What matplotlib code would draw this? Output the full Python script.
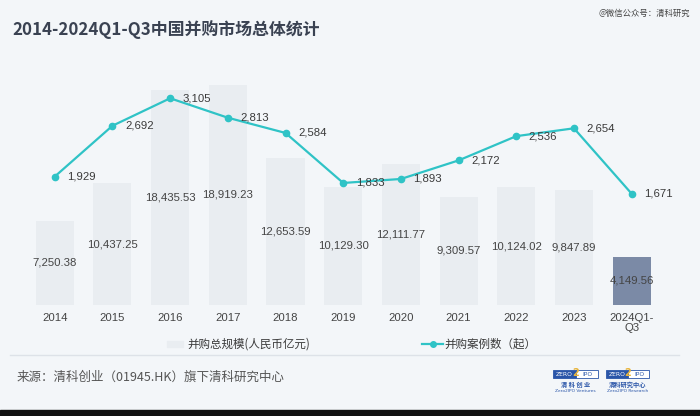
import matplotlib
matplotlib.use("Agg")
import matplotlib.pyplot as plt
from matplotlib.patches import Rectangle
from matplotlib.lines import Line2D

plt.rcParams['font.family'] = ['Noto Sans CJK SC', 'DejaVu Sans']

categories = ["2014", "2015", "2016", "2017", "2018", "2019", "2020", "2021", "2022", "2023", "2024Q1-\nQ3"]
scale_values = [7250.38, 10437.25, 18435.53, 18919.23, 12653.59, 10129.30, 12111.77, 9309.57, 10124.02, 9847.89, 4149.56]
case_counts = [1929, 2692, 3105, 2813, 2584, 1833, 1893, 2172, 2536, 2654, 1671]

title = "2014-2024Q1-Q3中国并购市场总体统计"
bar_legend = "并购总规模(人民币亿元)"
line_legend = "并购案例数（起）"
source = "来源：清科创业（01945.HK）旗下清科研究中心"
watermark = "@微信公众号：清科研究"

BG = "#f3f6f9"
BAR = "#e9edf1"
BAR_LAST = "#7b8aa6"
LINE = "#2fc3c6"
TXT = "#3a3a3a"
LOGO = "#2a55a8"

fig = plt.figure(figsize=(7, 4.16), dpi=100, facecolor=BG)
ax = fig.add_axes([0.037, 0.2668, 0.9066, 0.5602])
ax.set_facecolor("none")
ax2 = ax.twinx()

x = list(range(len(categories)))
colors = [BAR] * (len(categories) - 1) + [BAR_LAST]
ax.bar(x, scale_values, width=0.66, color=colors, zorder=1)
ax.set_ylim(0, 20000)
ax.set_xlim(-0.5, len(categories) - 0.5)
for xi, v in zip(x, scale_values):
    ax.text(xi, v / 2, f"{v:,.2f}", ha="center", va="center", fontsize=8.2,
            family="Liberation Sans", color="#444444")

ax2.plot(x, case_counts, color=LINE, lw=1.6, marker="o", markersize=4.5, zorder=3)
ax2.set_ylim(0, 3500)
for xi, v in zip(x, case_counts):
    ax2.annotate(f"{v:,}", (xi, v), xytext=(9, 0), textcoords="offset points",
                 ha="left", va="center", fontsize=8.2, family="Liberation Sans", color=TXT)

for a in (ax, ax2):
    for s in a.spines.values():
        s.set_visible(False)
    a.set_yticks([])
ax.set_xticks(x)
ax.set_xticklabels(categories, fontsize=8.2, family="Liberation Sans", color="#444444", linespacing=0.95)
ax.tick_params(axis="x", length=0, pad=6)

# title and watermark
fig.text(12 / 700, 1 - 30 / 416, title, fontsize=12.2, fontweight="bold", color="#3a4252",
         ha="left", va="center")
fig.text(690 / 700, 1 - 13 / 416, watermark, fontsize=6, color="#444444", ha="right", va="center")

# legend
ly = 1 - 344 / 416
fig.patches.append(Rectangle((167 / 700, ly - 3 / 416), 16 / 700, 6 / 416, transform=fig.transFigure,
                             color=BAR, zorder=2))
fig.text(187 / 700, ly, bar_legend, fontsize=8.3, color=TXT, ha="left", va="center")
fig.lines.append(Line2D([422 / 700, 443 / 700], [ly, ly], transform=fig.transFigure, color=LINE, lw=1.6))
fig.lines.append(Line2D([432.5 / 700], [ly], transform=fig.transFigure, color=LINE, marker="o", markersize=4))
fig.text(444 / 700, ly, line_legend, fontsize=8.3, color=TXT, ha="left", va="center")

# separator
fig.lines.append(Line2D([10 / 700, 679 / 700], [1 - 355 / 416] * 2, transform=fig.transFigure,
                        color="#dde2e8", lw=1))

# source
fig.text(17 / 700, 1 - 377 / 416, source, fontsize=9, color="#555555", ha="left", va="center")

# logos (simplified)
for lx, w, name, sub in [(553, 45, "清 科 创 业", "Zero2IPO Ventures"), (606, 43, "清科研究中心", "Zero2IPO Research")]:
    y0 = 1 - 378 / 416
    h = 8 / 416
    fig.patches.append(Rectangle((lx / 700, y0), (w * 0.5) / 700, h, transform=fig.transFigure,
                                 facecolor=LOGO, edgecolor=LOGO, lw=0.6))
    fig.patches.append(Rectangle(((lx + w * 0.5) / 700, y0), (w * 0.5) / 700, h, transform=fig.transFigure,
                                 facecolor="white", edgecolor=LOGO, lw=0.6))
    fig.text((lx + w * 0.25) / 700, 1 - 374 / 416, "ZERO", fontsize=4.3, color="white", ha="center",
             va="center", family="DejaVu Sans")
    fig.text((lx + w * 0.5) / 700, 1 - 373 / 416, "2", fontsize=7, color="#e8b43a", ha="center",
             va="center", family="DejaVu Sans", fontweight="bold")
    fig.text((lx + w * 0.77) / 700, 1 - 374 / 416, "IPO", fontsize=4.3, color=LOGO, ha="center",
             va="center", family="DejaVu Sans")
    fig.text((lx + w / 2) / 700, 1 - 385 / 416, name, fontsize=4.5, color=LOGO, ha="center", va="center",
             fontweight="bold")
    fig.text((lx + w / 2) / 700, 1 - 391.5 / 416, sub, fontsize=3.2, color=LOGO, ha="center", va="center",
             family="DejaVu Sans")

# dark bottom strip
fig.patches.append(Rectangle((0, 0), 1, 6 / 416, transform=fig.transFigure, color="#111111"))

fig.savefig("out.png", dpi=100, facecolor=BG)
